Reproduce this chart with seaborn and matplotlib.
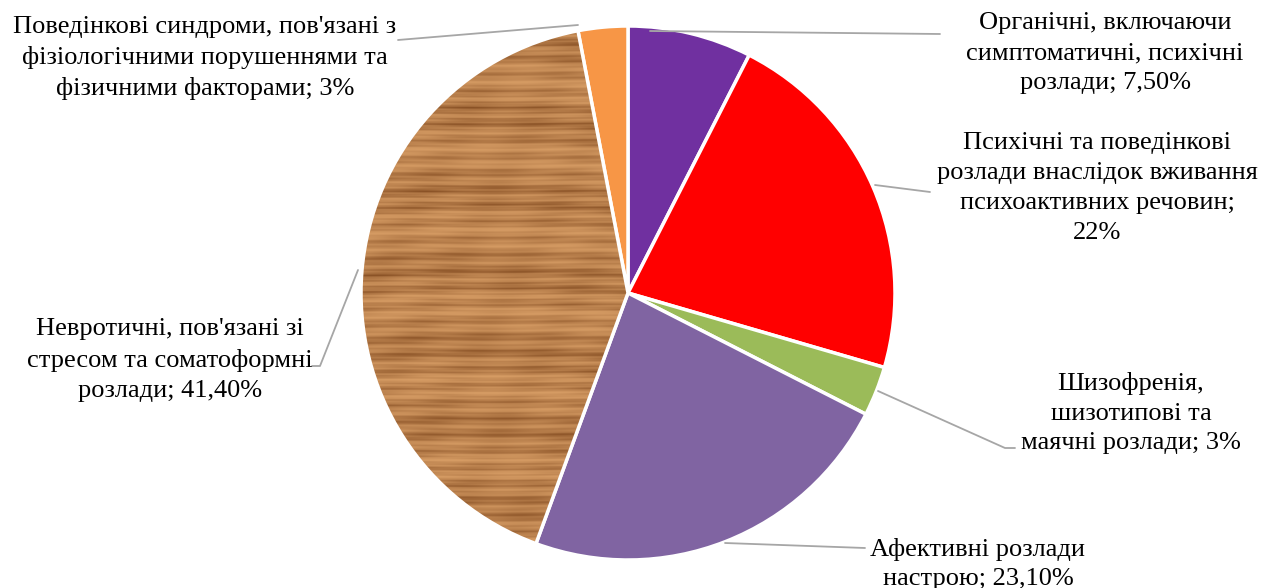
import matplotlib
matplotlib.use("Agg")
import matplotlib.pyplot as plt
import numpy as np
import seaborn as sns

# shares of disorder groups, clockwise from 12 o'clock
labels = [
    "Органічні, включаючи\nсимптоматичні, психічні\nрозлади; 7,50%",
    "Психічні та поведінкові\nрозлади внаслідок вживання\nпсихоактивних речовин;\n22%",
    "Шизофренія,\nшизотипові та\nмаячні розлади; 3%",
    "Афективні розлади\nнастрою; 23,10%",
    "Невротичні, пов'язані зі\nстресом та соматоформні\nрозлади; 41,40%",
    "Поведінкові синдроми, пов'язані з\nфізіологічними порушеннями та\nфізичними факторами; 3%",
]
shares = [7.5, 22, 3, 23.1, 41.4, 3]
colors = ["#7030A0", "#FF0000", "#9BBB59", "#8064A2", "#C68B52", "#F79646"]

sns.set_theme(style="white")
plt.rcParams["font.family"] = ["Liberation Serif", "DejaVu Serif"]

W, H = 1262, 588
fig = plt.figure(figsize=(W / 100, H / 100), dpi=100)
ax = fig.add_axes([0, 0, 1, 1])


def fy(y):
    # picture rows (top = 0) to axis units
    return H - np.asarray(y, dtype=float)


cx, cy, r = 628, 293, 267
wedges, _ = ax.pie(
    shares,
    colors=colors,
    startangle=90,
    counterclock=False,
    center=(cx, fy(cy)),
    radius=r,
    wedgeprops=dict(edgecolor="white", linewidth=2.5),
    frame=True,
)

# wood-grain fill for the largest slice
h, w = 540, 540
yy, xx = np.mgrid[0:h, 0:w]
grain = (
    0.5 * np.sin(yy * 0.38 + 2.0 * np.sin(xx * 0.011))
    + 0.35 * np.sin(yy * 1.1 + 1.2 * np.sin(xx * 0.027 + 1.0))
    + 0.3 * np.sin(yy * 0.08 + 0.4 + 0.5 * np.sin(xx * 0.02))
    + 0.15 * np.sin(yy * 2.3 + xx * 0.01)
    + 0.12 * np.sin(xx * 0.09 + yy * 0.05)
)
grain = (grain - grain.min()) / (grain.max() - grain.min())
grain = grain ** 1.5
light = np.array([214, 156, 100]) / 255
dark = np.array([138, 82, 38]) / 255
tex = light[None, None, :] * (1 - grain[..., None]) + dark[None, None, :] * grain[..., None]
im = ax.imshow(tex, extent=(cx - r, cx + r, fy(cy + r), fy(cy - r)), zorder=1.5)
im.set_clip_path(wedges[4])
wedges[4].set_zorder(2)
wedges[4].set_facecolor("none")

ax.set_xlim(0, W)
ax.set_ylim(0, H)
ax.set_aspect("equal")
ax.axis("off")

line_kw = dict(color="#A6A6A6", lw=1.3)
# leader lines (picture pixels) and label centre
leaders = [
    ([650, 940], [31, 34], (1105, 53)),
    ([875, 930], [185, 192], (1097, 188)),
    ([878, 1005, 1015], [391, 448, 448], (1131, 413)),
    ([725, 865], [543, 548], (978, 564)),
    ([358, 320, 312], [270, 366, 366], (170, 360)),
    ([578, 398], [25, 40], (205, 58)),
]
for lab, (lx, ly, pos) in zip(labels, leaders):
    ax.plot(lx, fy(ly), **line_kw, zorder=3)
    ax.text(pos[0], fy(pos[1]), lab, ha="center", va="center", fontsize=19,
            color="black", linespacing=1.47, zorder=4)

fig.savefig("out.png", dpi=100)
